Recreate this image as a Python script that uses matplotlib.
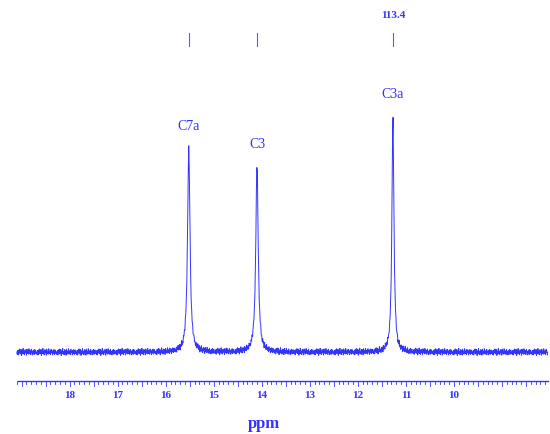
import numpy as np
import matplotlib
matplotlib.use("Agg")
from matplotlib import pyplot as plt

# peaks (ppm, height above baseline in px, half width ppm)
peak_names = ["C7a", "C3", "C3a"]
peak_ppm = [15.52, 14.10, 11.27]
peak_height = [205, 187, 237]
peak_hw = [0.03, 0.03, 0.025]
top_label = "113.4"

# hand-read baseline wiggle (px), repeated along the trace
noise = [0.0, 2.5, -1.5, 3.0, -2.0, 1.0, -3.0, 2.0, 0.5, -2.5, 3.5, -1.0, 1.5, -3.5,
         2.0, -0.5, 2.8, -2.2, 0.8, -1.8, 3.2, -2.8, 1.2, -0.8, 2.2, -3.2, 0.3, 1.8,
         -1.2, 2.6, -2.6, 0.6, -0.3, 3.0, -1.6, 1.4, -2.4, 2.4, -0.6, -1.9, 1.7]

BLUE = "#3333ff"
BASE = 352.0
x_left, x_right = 19.45, 8.0

fig = plt.figure(figsize=(5.5, 4.34), dpi=100)
ax = fig.add_axes([0, 0, 1, 1])
ax.set_xlim(x_left, x_right)
ax.set_ylim(434, 0)
ax.axis("off")

ppm = np.linspace(19.1, 8.05, 1100)
sig = np.zeros_like(ppm)
for p, h, w in zip(peak_ppm, peak_height, peak_hw):
    sig += h / (1 + ((ppm - p) / w) ** 2)
nz = np.resize(np.array(noise), ppm.size)
ax.plot(ppm, BASE - sig + nz, color=BLUE, lw=0.7)

for name, p, h in zip(peak_names, peak_ppm, peak_height):
    ax.text(p, BASE - h - 14, name, ha="center", va="bottom", color=BLUE,
            family="Liberation Serif", fontsize=10)
    ax.plot([p, p], [33, 46], color=BLUE, lw=0.8, alpha=0.8)
ax.text(peak_ppm[2], 15, top_label, ha="center", va="center", color=BLUE,
        family="Liberation Serif", fontsize=8, weight="bold")

# ppm scale
ax.plot([19.08, 8.05], [381, 381], color=BLUE, lw=1)
for t in np.arange(8.1, 19.1, 0.1):
    big = abs(t * 2 - round(t * 2)) < 0.01
    ax.plot([t, t], [381, 386 if big else 384], color=BLUE, lw=0.6)
for v in range(10, 19):
    ax.text(v, 395, str(v), ha="center", va="center", color=BLUE,
            family="Liberation Serif", fontsize=8, weight="bold")
ax.text(13.95, 424, "ppm", ha="center", va="center", color=BLUE,
        family="Liberation Serif", fontsize=12, weight="bold")

fig.savefig("out.png", dpi=100)
